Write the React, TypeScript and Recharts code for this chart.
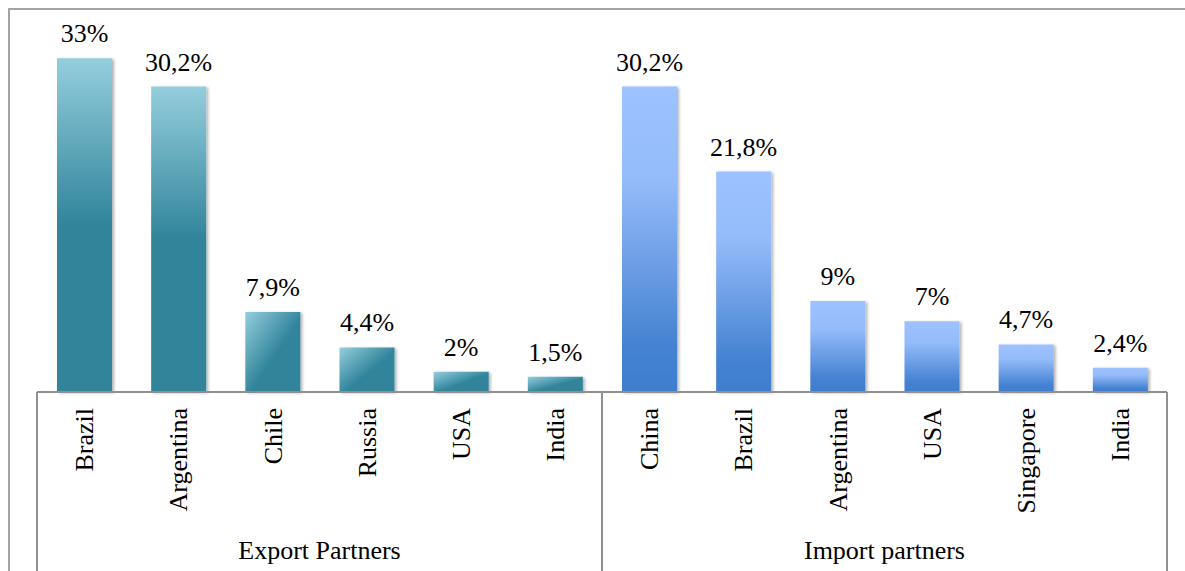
import { BarChart, Bar, XAxis, YAxis, Cell, LabelList } from 'recharts';

const exportPartners = ['Brazil', 'Argentina', 'Chile', 'Russia', 'USA', 'India'];
const exportShares = [33, 30.2, 7.9, 4.4, 2, 1.5];
const importPartners = ['China', 'Brazil', 'Argentina', 'USA', 'Singapore', 'India'];
const importShares = [30.2, 21.8, 9, 7, 4.7, 2.4];
const groupLabels = ['Export Partners', 'Import partners'];

const data = [
  ...exportPartners.map((name, i) => ({ id: `e${i}`, name, value: exportShares[i], group: 0 })),
  ...importPartners.map((name, i) => ({ id: `i${i}`, name, value: importShares[i], group: 1 })),
];

const W = 1177;
const H = 563;
const LEFT = 29;
const RIGHT = 18;
const AXIS_H = 179;
const BAND = (W - LEFT - RIGHT) / data.length;
const FONT = "'Liberation Serif', 'Times New Roman', serif";
const LINE = '#8f8f8f';
const textStyle = { fontFamily: FONT, fontSize: 26, fill: '#000' };

const fmt = (v: number) => `${String(v).replace('.', ',')}%`;

// rotated partner name + group box lines and group caption
const PartnerTick = (props: any) => {
  const { x, y, payload } = props;
  const i = payload.index;
  const d = data[i];
  const first = i === 0 || data[i - 1].group !== d.group;
  const groupSize = data.filter((r) => r.group === d.group).length;
  const left = x - BAND / 2;
  return (
    <g>
      <text
        x={x}
        y={y + 16}
        dy="0.35em"
        transform={`rotate(-90, ${x}, ${y + 16})`}
        textAnchor="end"
        style={textStyle}
      >
        {d.name}
      </text>
      {first && <line x1={left} x2={left} y1={y} y2={y + AXIS_H + 10} stroke={LINE} strokeWidth={2} />}
      {first && (
        <text x={left + (BAND * groupSize) / 2} y={y + 167} textAnchor="middle" style={textStyle}>
          {groupLabels[d.group]}
        </text>
      )}
      {i === data.length - 1 && (
        <line x1={x + BAND / 2} x2={x + BAND / 2} y1={y} y2={y + AXIS_H + 10} stroke={LINE} strokeWidth={2} />
      )}
    </g>
  );
};

export default function App() {
  return (
    <div style={{ position: 'fixed', left: 8, top: 8, width: W, height: H, overflow: 'hidden', background: '#fff' }}>
      <BarChart width={W} height={H} data={data} margin={{ top: 30, right: RIGHT, bottom: 0, left: LEFT }}>
        <defs>
          <linearGradient id="expTall" x1="0" y1="0" x2="0" y2="1">
            <stop offset="0" stopColor="#94CEDD" />
            <stop offset="0.5" stopColor="#31849B" />
            <stop offset="1" stopColor="#31849B" />
          </linearGradient>
          <linearGradient id="expShort" x1="0" y1="0" x2="1" y2="1">
            <stop offset="0" stopColor="#94CEDD" />
            <stop offset="0.55" stopColor="#31849B" />
            <stop offset="1" stopColor="#31849B" />
          </linearGradient>
          <linearGradient id="imp" x1="0" y1="0" x2="0" y2="1">
            <stop offset="0" stopColor="#9CC2FF" />
            <stop offset="0.3" stopColor="#95BCFA" />
            <stop offset="0.85" stopColor="#4582D2" />
            <stop offset="1" stopColor="#3F7ECE" />
          </linearGradient>
          <filter id="barShadow" x="-20%" y="-10%" width="150%" height="130%">
            <feDropShadow dx="2" dy="1" stdDeviation="1.5" floodColor="#000" floodOpacity="0.3" />
          </filter>
        </defs>
        <XAxis
          dataKey="id"
          interval={0}
          height={AXIS_H}
          tickLine={false}
          tickSize={0}
          tickMargin={0}
          axisLine={{ stroke: LINE, strokeWidth: 2 }}
          tick={<PartnerTick />}
        />
        <YAxis hide domain={[0, 35]} />
        <Bar dataKey="value" barSize={55} isAnimationActive={false} filter="url(#barShadow)">
          {data.map((d) => (
            <Cell
              key={d.id}
              fill={d.group === 1 ? 'url(#imp)' : d.value > 15 ? 'url(#expTall)' : 'url(#expShort)'}
            />
          ))}
          <LabelList
            dataKey="value"
            position="top"
            offset={16}
            formatter={(v: any) => fmt(Number(v))}
            style={textStyle}
          />
        </Bar>
      </BarChart>
      <div
        style={{
          position: 'absolute',
          left: 0,
          top: 0,
          width: W + 20,
          height: H + 20,
          borderLeft: '2px solid #a3a3a3',
          borderTop: '2px solid #a3a3a3',
          pointerEvents: 'none',
        }}
      />
    </div>
  );
}
